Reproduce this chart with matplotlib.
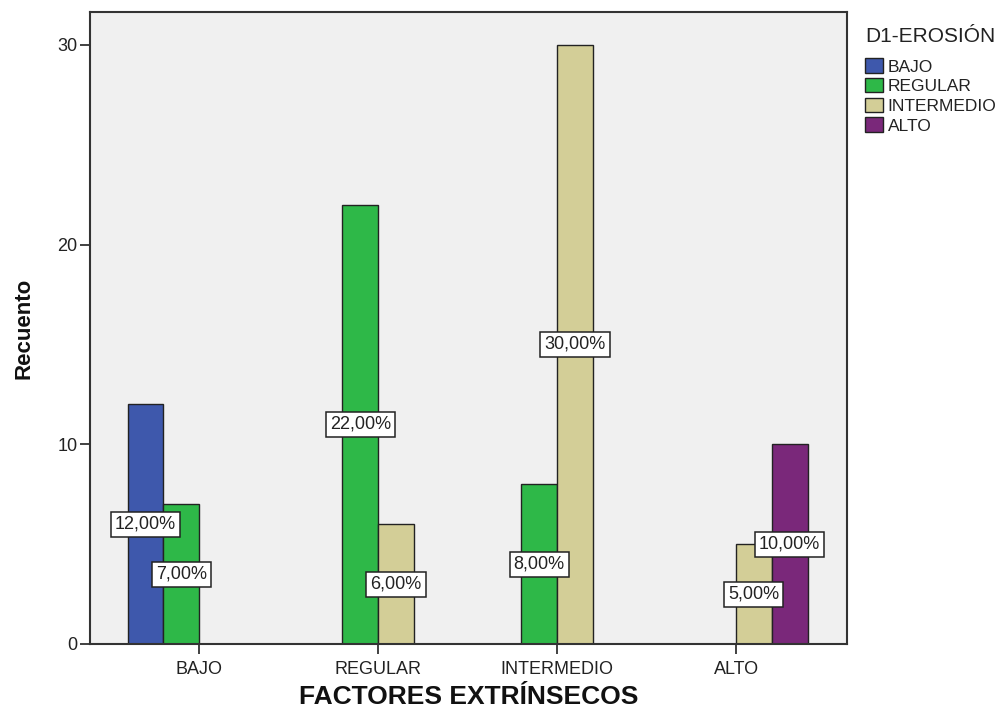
import matplotlib
matplotlib.use("Agg")
import matplotlib.pyplot as plt
import numpy as np

plt.rcParams['font.family'] = ['Liberation Sans', 'DejaVu Sans']

# counts per factor level (n = 100, so counts equal percentages)
factores = ['BAJO', 'REGULAR', 'INTERMEDIO', 'ALTO']
series = ['BAJO', 'REGULAR', 'INTERMEDIO', 'ALTO']
bajo = [12, 0, 0, 0]
regular = [7, 22, 8, 0]
intermedio = [0, 6, 30, 5]
alto = [0, 0, 0, 10]
total = 100

colores = ['#3E58AC', '#2EB848', '#D3CE97', '#7A287A']

fig = plt.figure(figsize=(10.07, 7.13), dpi=100)
ax = fig.add_axes([0.0894, 0.0968, 0.7517, 0.8864])
ax.set_facecolor('#F0F0F0')

x = np.arange(len(factores))
w = 0.2
offsets = [-1.5, -0.5, 0.5, 1.5]
handles = []
for vals, col, off, name in zip([bajo, regular, intermedio, alto], colores, offsets, series):
    vals = np.array(vals, dtype=float)
    mask = vals > 0
    ax.bar(x[mask] + off * w, vals[mask], width=w, color=col,
           edgecolor='#222222', linewidth=1.0, zorder=2)
    handles.append(plt.Rectangle((0, 0), 1, 1, facecolor=col, edgecolor='#222222', linewidth=1.0))
    # percentage label in the middle of each bar
    for xi, v in zip(x[mask] + off * w, vals[mask]):
        pct = f"{v / total * 100:.2f}".replace('.', ',') + '%'
        ax.text(xi, v / 2, pct, ha='center', va='center', fontsize=13, color='#222222',
                zorder=4,
                bbox=dict(boxstyle='square,pad=0.22', facecolor='white',
                          edgecolor='#222222', linewidth=1.1))

ax.set_xlim(-0.61, 3.62)
ax.set_ylim(0, 31.65)
ax.set_xticks(x)
ax.set_xticklabels(factores, fontsize=13, color='#222222')
ax.set_yticks([0, 10, 20, 30])
ax.set_yticklabels(['0', '10', '20', '30'], fontsize=13, color='#222222')
ax.tick_params(axis='x', length=7, width=1.3, color='#333333', pad=5)
ax.tick_params(axis='y', length=7, width=1.3, color='#333333', pad=2)
for s in ax.spines.values():
    s.set_color('#333333')
    s.set_linewidth(1.5)

ax.set_xlabel('FACTORES EXTRÍNSECOS', fontsize=19, fontweight='bold', color='#111111')
ax.xaxis.set_label_coords(0.5, -0.084)
ax.xaxis.label.set_va('center')
ax.set_ylabel('Recuento', fontsize=16, fontweight='bold', color='#111111')
ax.yaxis.set_label_coords(-0.087, 0.5)
ax.yaxis.label.set_va('center')

leg = fig.legend(handles, series, title='D1-EROSIÓN', loc='upper left',
                 bbox_to_anchor=(0.852, 0.972), frameon=False, fontsize=12.5,
                 title_fontsize=15, handlelength=1.05, handleheight=0.9,
                 handletextpad=0.25, labelspacing=0.2, borderaxespad=0)
leg._legend_box.align = 'left'
leg._legend_box.sep = 9
for t in leg.get_texts():
    t.set_color('#222222')
leg.get_title().set_color('#222222')

fig.savefig('out.png', dpi=100, facecolor='white')
